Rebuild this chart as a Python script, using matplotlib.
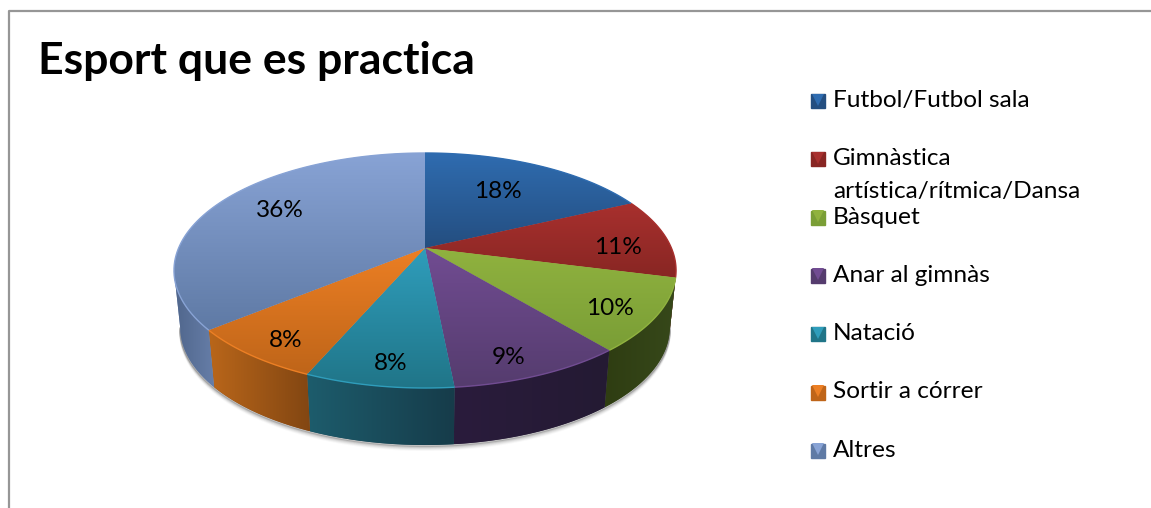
import numpy as np
import matplotlib
matplotlib.use("Agg")
import matplotlib.pyplot as plt
from matplotlib.colors import to_rgb
from matplotlib.patches import PathPatch
from matplotlib.path import Path
from matplotlib.transforms import Transform

plt.rcParams['font.family'] = ['Lato', 'DejaVu Sans']

title = "Esport que es practica"
categories = ["Futbol/Futbol sala", "Gimnàstica\nartística/rítmica/Dansa", "Bàsquet",
              "Anar al gimnàs", "Natació", "Sortir a córrer", "Altres"]
values = [18, 11, 10, 9.45, 8, 7.55, 36]

# colours: top of the wedge light -> dark, wall left -> right
top_light = ["#2f6cb0", "#a8302e", "#90b23f", "#714c92", "#2f9dbb", "#ec7f24", "#88a3d5"]
top_dark = ["#244e80", "#882623", "#7a9e36", "#553c6e", "#207588", "#bf6519", "#5f7aa5"]
wall_left = ["#1d3d63", "#5e1a18", "#2f3d12", "#2a1c3c", "#1d5c6c", "#b9661a", "#50668c"]
wall_right = ["#1d3d63", "#5e1a18", "#36481a", "#241a33", "#163c4a", "#824612", "#667ea8"]

# how far out each percentage sits on its wedge (pie radius = 1), and pixel nudges
label_dist = [0.65, 0.80, 0.80, 0.83, 0.82, 0.82, 0.68]
label_dx = [-5, 0, 4, -8, 2, -1, -1]
label_dy = [0, 8, 8, 8, 7, 7, -6]

# perspective of the tilted disc, in pixels of the image
cx, cy = 425, 248
a, b, k = 246.4, 113.2, 0.1915
depth, shrink = 57, 0.975


class Tilt(Transform):
    input_dims = 2
    output_dims = 2

    def transform_non_affine(self, xy):
        xy = np.asarray(xy, dtype=float)
        d = 1 + k * xy[:, 1]
        return np.column_stack([cx + a * xy[:, 0] / d, cy - b * xy[:, 1] / d])


tilt = Tilt()


def arc(t1, t2):
    # t1, t2 in degrees clockwise from 12 o'clock
    t = np.radians(np.linspace(t1, t2, 80))
    return tilt.transform_non_affine(np.column_stack([np.sin(t), np.cos(t)]))


def grad_image(ax, c1, c2, extent, horizontal=False):
    n = np.linspace(0, 1, 64)[:, None]
    img = (1 - n) * np.array(to_rgb(c1)) + n * np.array(to_rgb(c2))
    img = img[None, :, :] if horizontal else img[:, None, :]
    return ax.imshow(img, extent=extent, aspect='auto', interpolation='bilinear', origin='upper')


fig = plt.figure(figsize=(11.51, 5.08), dpi=100)
ax = fig.add_axes([0, 0, 1, 1])

wedges, _, pct = ax.pie(values, startangle=90, counterclock=False, colors=top_light,
                        autopct="%.0f%%", pctdistance=1.0,
                        textprops={'fontsize': 17.6, 'color': 'black'},
                        wedgeprops={'linewidth': 0})

edges = np.cumsum([0] + values) * 3.6
for i, w in enumerate(wedges):
    w.set_transform(tilt + ax.transData)
    w.set_zorder(5)
    verts = tilt.transform_path(w.get_path()).vertices
    ext = [verts[:, 0].min(), verts[:, 0].max(), verts[:, 1].max(), verts[:, 1].min()]
    im = grad_image(ax, top_light[i], top_dark[i], ext)
    im.set_zorder(6)
    im.set_clip_path(w)

    # light rim along the outer arc
    rim = arc(edges[i], edges[i + 1])
    ax.plot(rim[:, 0], rim[:, 1], color=top_light[i], lw=1.0, zorder=7, solid_capstyle='butt')

    # wall below the arc, only the part facing the viewer
    t1, t2 = max(edges[i], 101), min(edges[i + 1], 259)
    if t2 <= t1:
        continue
    upper = arc(t1, t2)
    lower = np.column_stack([cx + (upper[:, 0] - cx) * shrink, upper[:, 1] + depth])
    poly = np.vstack([upper, lower[::-1], upper[:1]])
    patch = PathPatch(Path(poly), fc=wall_right[i], ec='none', zorder=3)
    ax.add_patch(patch)
    im = grad_image(ax, wall_left[i], wall_right[i],
                    [poly[:, 0].min(), poly[:, 0].max(), poly[:, 1].max(), poly[:, 1].min()],
                    horizontal=True)
    im.set_zorder(4)
    im.set_clip_path(patch)

# soft shadow under the wall
under = arc(101, 259)
under = np.column_stack([cx + (under[:, 0] - cx) * shrink, under[:, 1] + depth])
for off, al in [(1, 0.35), (2, 0.2), (3, 0.12), (4, 0.07), (5, 0.04)]:
    ax.plot(under[:, 0], under[:, 1] + off, color='#555555', alpha=al, lw=1.5, zorder=2)

for t, dist, dx, dy in zip(pct, label_dist, label_dx, label_dy):
    x, y = t.get_position()
    px = tilt.transform_non_affine(np.array([[x * dist, y * dist]]))[0]
    t.set_position((px[0] + dx, px[1] + dy))
    t.set_zorder(10)

# legend
for i, name in enumerate(categories):
    y = 100.5 + i * 58.3
    ax.plot([818], [y + 0.5], marker='s', ms=10, mfc=top_dark[i], mec=top_dark[i], zorder=8)
    ax.plot([818], [y - 1], marker='v', ms=8.5, mfc=top_light[i], mec=top_light[i], mew=0, zorder=9)
    if "\n" in name:
        first, second = name.split("\n")
        ax.text(833, y, first, fontsize=17.6, va='center', ha='left')
        ax.text(833, y + 33, second, fontsize=17.6, va='center', ha='left')
    else:
        ax.text(833, y, name, fontsize=17.6, va='center', ha='left')

ax.text(38, 61, title, fontsize=32, fontweight='bold', va='center', ha='left')

# chart frame
ax.plot([9, 9, 1151], [508, 11, 11], color='#969696', lw=1.6, zorder=1)

ax.set_xlim(0, 1151)
ax.set_ylim(508, 0)
ax.set_aspect('auto')
ax.axis('off')

fig.savefig("out.png", dpi=100)
